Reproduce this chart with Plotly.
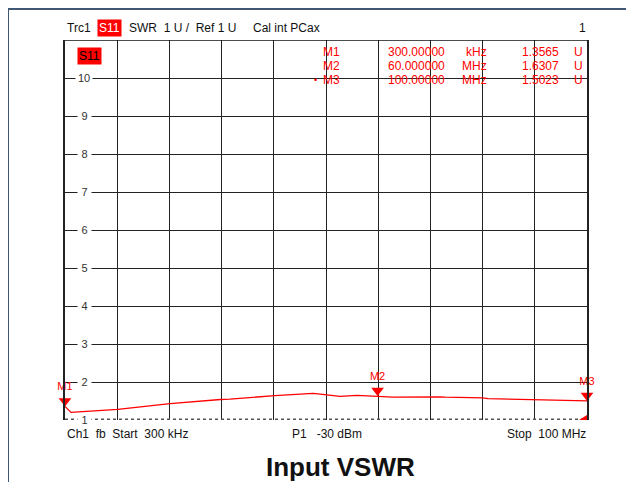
import plotly.graph_objects as go

# trace (frequency in MHz, SWR in U)
freq_mhz = [0.3, 1.45, 10.4, 20.35, 30.0, 31.8, 40.4, 47.7, 50.3, 52.8, 56.1,
            60.0, 62.9, 71.9, 72.9, 80.1, 81.1, 91.6, 100.0]
swr = [1.3565, 1.20, 1.28, 1.43, 1.54, 1.55, 1.64, 1.70, 1.66, 1.62, 1.65,
       1.6307, 1.60, 1.61, 1.60, 1.58, 1.56, 1.53, 1.5023]

marker_names = ["M1", "M2", "M3"]
marker_freq_mhz = [0.3, 60.0, 100.0]
marker_stim = ["300.00000", "60.000000", "100.00000"]
marker_unit = ["kHz", "MHz", "MHz"]
marker_swr = [1.3565, 1.6307, 1.5023]

X0, X1 = 0.3, 100.0
Y0, Y1 = 1, 11

# page body adds an 8px margin on every side; size the figure so the page
# does not scroll and give every pixel position below in window coordinates
OFF = 8
W, H = 635 - 2 * OFF, 491 - 2 * OFF
L, T = 65 - OFF, 40 - OFF
R = W - (587 - OFF)
B = H - (420 - OFF)
PW, PH = W - L - R, H - T - B
RED = "#ff0000"
FONT = "Liberation Sans, Arial, sans-serif"


def px(x):
    return (x - OFF - L) / PW


def py(y):
    return (H - B - (y - OFF)) / PH


fig = go.Figure()

fig.add_trace(
    go.Scatter(
        x=freq_mhz,
        y=swr,
        mode="lines",
        line={"color": RED, "width": 1.3},
        hoverinfo="skip",
    )
)

# marker triangles: tip sits on the trace
unit_px = PH / (Y1 - Y0)
tri_size = 11
fig.add_trace(
    go.Scatter(
        x=marker_freq_mhz,
        y=[v + (tri_size / 2) / unit_px for v in marker_swr],
        mode="markers+text",
        marker={"symbol": "triangle-down", "size": tri_size, "color": RED},
        text=marker_names,
        textposition="top center",
        textfont={"family": FONT, "size": 11, "color": RED},
        cliponaxis=False,
        hoverinfo="skip",
    )
)

FRAME = {"color": "#3f5675", "width": 2}
shapes = [
    # outer frame: only its top and left edges fall inside the window
    dict(type="line", xref="paper", yref="paper", x0=px(8), x1=px(626),
         y0=py(9), y1=py(9), line=FRAME),
    dict(type="line", xref="paper", yref="paper", x0=px(8), x1=px(8),
         y0=py(9), y1=py(482), line=FRAME),
    # top border
    dict(type="line", xref="x", yref="y", x0=X0, x1=X1, y0=Y1, y1=Y1,
         line={"color": "#111", "width": 1.5}),
    # hatched bottom line
    dict(type="line", xref="x", yref="y", x0=X0, x1=X1, y0=Y0, y1=Y0,
         line={"color": "#555", "width": 3, "dash": "dot"}),
    # ref-level wedge in the bottom-right corner
    dict(type="path", xref="paper", yref="paper",
         path=f"M {px(579)} {py(420)} L {px(587)} {py(420)} L {px(587)} {py(415)} Z",
         fillcolor=RED, line={"width": 0}),
]

ann = []


def text(x, y, s, size=12, color="#111", xanchor="left", **kw):
    ann.append(dict(x=px(x), y=py(y), xref="paper", yref="paper", text=s,
                    showarrow=False, xanchor=xanchor, yanchor="middle",
                    font={"family": FONT, "size": size, "color": color}, **kw))


# header line
text(65, 28, "Trc1")
text(97, 28, "S11", color="white", bgcolor=RED, borderpad=1)
text(127, 28, "SWR  1 U /  Ref 1 U")
text(251, 28, "Cal int PCax")
text(588, 28, "1", xanchor="right")

# trace label inside grid
text(77, 56, "S11", color="black", bgcolor=RED, borderpad=1)

# marker table
rows_y = [52, 66, 80]
for i, y in enumerate(rows_y):
    text(321, y, marker_names[i], color=RED)
    text(447, y, marker_stim[i], color=RED, xanchor="right")
    text(489, y, marker_unit[i], color=RED, xanchor="right")
    text(561, y, f"{marker_swr[i]:.4f}", color=RED, xanchor="right")
    text(572, y, "U", color=RED)
text(319, 80, "•", size=9, color=RED, xanchor="right")

# y tick labels sitting on the gridlines
for v in range(Y0, Y1):
    ann.append(dict(x=px(84), y=v, xref="paper", yref="y", text=str(v),
                    showarrow=False, xanchor="center", yanchor="middle",
                    bgcolor="white", borderpad=0,
                    font={"family": FONT, "size": 11, "color": "#333"},
                    width=16 if v == 10 else 13))

# footer
text(65, 434, "Ch1  fb  Start  300 kHz")
text(290, 434, "P1   -30 dBm")
text(588, 434, "Stop  100 MHz", xanchor="right")

ann.append(dict(x=px(340), y=py(467), xref="paper", yref="paper",
                text="<b>Input VSWR</b>", showarrow=False,
                xanchor="center", yanchor="middle", borderpad=0,
                font={"family": FONT, "size": 26, "color": "#111"}))

fig.update_layout(
    width=W,
    height=H,
    margin={"l": L, "r": R, "t": T, "b": B},
    paper_bgcolor="white",
    plot_bgcolor="white",
    showlegend=False,
    shapes=shapes,
    annotations=ann,
)
fig.update_xaxes(
    range=[X0, X1], tick0=X0, dtick=(X1 - X0) / 10, showgrid=True,
    gridcolor="#222", gridwidth=1, showticklabels=False, ticks="",
    zeroline=False, showline=False,
)
fig.update_yaxes(
    range=[Y0, Y1], dtick=1, showgrid=True, gridcolor="#222", gridwidth=1,
    showticklabels=False, ticks="", zeroline=False,
    showline=True, mirror=True, linecolor="#222", linewidth=1.5,
)

fig.write_html("out.html")
